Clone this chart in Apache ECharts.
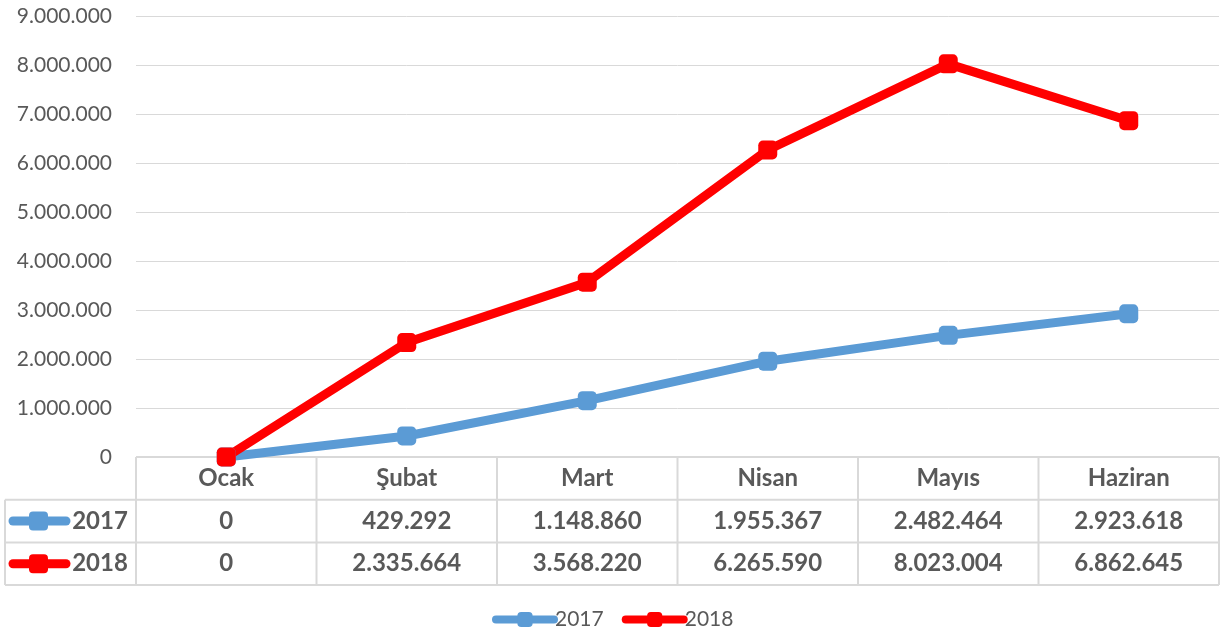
<!DOCTYPE html>
<html>
<head>
<meta charset="utf-8">
<script src="https://cdn.jsdelivr.net/npm/echarts@6/dist/echarts.min.js"></script>
<style>
  html, body { margin: 0; padding: 0; background: #fff; }
  #chart { width: 1224px; height: 637px; }
</style>
</head>
<body>
<div id="chart"></div>
<script>
const months = ["Ocak", "Şubat", "Mart", "Nisan", "Mayıs", "Haziran"];
const seriesNames = ["2017", "2018"];
const values2017 = [0, 429292, 1148860, 1955367, 2482464, 2923618];
const values2018 = [0, 2335664, 3568220, 6265590, 8023004, 6862645];
const colors = ["#5b9bd5", "#ff0000"];

const FONT = "Lato";
const TEXT = "#595959";
const BORDER = "#d9d9d9";

// 1234567 -> "1.234.567"
const fmt = (v) => String(Math.round(v)).replace(/\B(?=(\d{3})+(?!\d))/g, ".");

const chart = echarts.init(document.getElementById("chart"));

const lineSeries = (name, data, color) => ({
  name,
  type: "line",
  data,
  symbol: "roundRect",
  symbolSize: 19,
  lineStyle: { color, width: 9, cap: "round", join: "round" },
  itemStyle: { color },
  emphasis: { disabled: true },
  animation: false,
});

chart.setOption({
  animation: false,
  grid: { left: 136, right: 5, top: 16, bottom: 180 },
  legend: {
    bottom: 2,
    left: 487,
    itemWidth: 58,
    itemHeight: 19,
    itemGap: 18,
    lineStyle: { width: 8, cap: "round" },
    textStyle: { fontFamily: FONT, fontSize: 21, color: TEXT, padding: [0, 0, 0, -4] },
    data: seriesNames,
  },
  xAxis: {
    type: "category",
    data: months,
    boundaryGap: true,
    axisLine: { show: false },
    axisTick: { show: false },
    axisLabel: { show: false },
  },
  yAxis: {
    type: "value",
    min: 0,
    max: 9000000,
    interval: 1000000,
    axisLine: { show: false },
    axisTick: { show: false },
    splitLine: { lineStyle: { color: BORDER, width: 1 } },
    axisLabel: {
      fontFamily: FONT,
      fontSize: 21,
      color: TEXT,
      margin: 24,
      formatter: fmt,
    },
  },
  series: [
    lineSeries(seriesNames[0], values2017, colors[0]),
    lineSeries(seriesNames[1], values2018, colors[1]),
  ],
});

// data table under the plot, laid out from the axis scale
function buildTable() {
  const rows = [values2017, values2018];
  const x = months.map((m) => chart.convertToPixel({ xAxisIndex: 0 }, m));
  const step = x[1] - x[0];
  const left = x[0] - step / 2;
  const right = x[x.length - 1] + step / 2;
  const top = chart.convertToPixel({ yAxisIndex: 0 }, 0);
  const rowH = 42.7;
  const bottom = top + rowH * 3;
  const keyLeft = 5;
  const els = [];
  const line = (x1, y1, x2, y2) =>
    els.push({
      type: "line",
      shape: { x1, y1, x2, y2 },
      style: { stroke: BORDER, lineWidth: 2 },
      z: 1,
    });
  const text = (t, cx, cy) =>
    els.push({
      type: "text",
      x: cx,
      y: cy,
      style: {
        text: t,
        fontFamily: FONT,
        fontSize: 24,
        fontWeight: "bold",
        fill: TEXT,
        align: "center",
        verticalAlign: "middle",
      },
      z: 2,
    });

  // horizontal lines
  line(left, top, right, top);
  line(keyLeft, top + rowH, right, top + rowH);
  line(keyLeft, top + rowH * 2, right, top + rowH * 2);
  line(keyLeft, bottom, right, bottom);
  // vertical lines
  line(keyLeft, top + rowH, keyLeft, bottom);
  for (let i = 0; i <= months.length; i++) {
    const bx = left + step * i;
    line(bx, top, bx, bottom);
  }

  months.forEach((m, i) => text(m, x[i], top + rowH / 2));
  rows.forEach((vals, r) => {
    const cy = top + rowH * (r + 1.5);
    vals.forEach((v, i) => text(fmt(v), x[i], cy));
    // legend key
    els.push({
      type: "line",
      shape: { x1: 13, y1: cy, x2: 66, y2: cy },
      style: { stroke: colors[r], lineWidth: 9, lineCap: "round" },
      z: 2,
    });
    els.push({
      type: "rect",
      shape: { x: 29, y: cy - 9.5, width: 19, height: 19, r: 4 },
      style: { fill: colors[r] },
      z: 3,
    });
    text(seriesNames[r], 100, cy);
  });

  chart.setOption({ graphic: { elements: els } });
}
buildTable();
</script>
</body>
</html>
